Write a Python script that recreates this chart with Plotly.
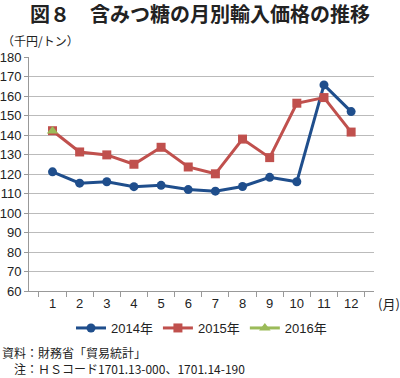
import plotly.graph_objects as go

months = [str(i) for i in range(1, 13)]
y2014 = [121.1, 115.3, 116.0, 113.5, 114.2, 112.0, 111.2, 113.6, 118.3, 116.0, 165.7, 152.0]
y2015 = [142.2, 131.3, 129.8, 125.0, 133.7, 123.6, 120.1, 137.9, 128.4, 156.3, 159.2, 141.5]
y2016 = [142.0]
yticks = list(range(60, 190, 10))

FONT = "Liberation Sans, Arial, Noto Sans CJK JP"
JP = "Noto Sans CJK JP"
PH = 378 - 57 - 87
PW = 400 - 29 - 26

fig = go.Figure()
fig.add_trace(go.Scatter(x=months, y=y2014, name="2014年", mode="lines+markers",
                         line=dict(color="#1f4e8c", width=3),
                         marker=dict(symbol="circle", size=9, color="#1f4e8c")))
fig.add_trace(go.Scatter(x=months, y=y2015, name="2015年", mode="lines+markers",
                         line=dict(color="#c0504d", width=3),
                         marker=dict(symbol="square", size=9, color="#c0504d")))
fig.add_trace(go.Scatter(x=months[:len(y2016)], y=y2016, name="2016年", mode="lines+markers",
                         line=dict(color="#9bbb59", width=3),
                         marker=dict(symbol="triangle-up", size=10, color="#9bbb59")))

fig.update_layout(
    width=400, height=378,
    margin=dict(l=29, r=26, t=57, b=87, autoexpand=False),
    paper_bgcolor="white", plot_bgcolor="white",
    font=dict(family=FONT, size=13, color="#222"),
    showlegend=True,
    legend=dict(orientation="h", x=0.5, xanchor="center", y=-(328 - 291) / PH, yanchor="middle",
                font=dict(family=FONT, size=13), traceorder="normal",
                itemwidth=30, bgcolor="rgba(0,0,0,0)"),
    title=dict(text="<b>図８　含みつ糖の月別輸入価格の推移</b>", x=0.5, xanchor="center",
               y=1 - 15 / 378, yanchor="middle", font=dict(family=JP, size=20, color="#222")),
)
fig.update_xaxes(type="category", tickson="boundaries", ticks="outside", ticklen=5,
                 tickcolor="#999", showline=True, linecolor="#999", showgrid=False,
                 tickfont=dict(size=13))
fig.update_yaxes(range=[60, 180], tickvals=yticks, ticks="outside", ticklen=4, tickcolor="#999",
                 showline=True, linecolor="#999", showgrid=True, gridcolor="#bbb",
                 zeroline=False, tickfont=dict(size=13))

fig.add_annotation(text="（千円/トン）", xref="paper", yref="paper", x=-29 / PW,
                   y=(291 - 40) / PH, xanchor="left", yanchor="middle", showarrow=False,
                   font=dict(family=JP, size=12, color="#222"))
fig.add_annotation(text="(月)", xref="paper", yref="paper", x=1.0, y=-12 / PH,
                   xanchor="left", yanchor="middle", showarrow=False, xshift=2,
                   font=dict(family=JP, size=13, color="#222"))
fig.add_annotation(text="資料：財務省「貿易統計」", xref="paper", yref="paper", x=-29 / PW,
                   y=-(352 - 291) / PH, xanchor="left", yanchor="middle", showarrow=False,
                   font=dict(family=JP, size=12, color="#222"))
fig.add_annotation(text="　注：ＨＳコード1701.13-000、1701.14-190", xref="paper", yref="paper",
                   x=-29 / PW, y=-(368 - 291) / PH, xanchor="left", yanchor="middle",
                   showarrow=False, font=dict(family=JP, size=12, color="#222"))

fig.write_html("out.html", config={"displayModeBar": False},
               post_script="document.body.style.margin='0';")
